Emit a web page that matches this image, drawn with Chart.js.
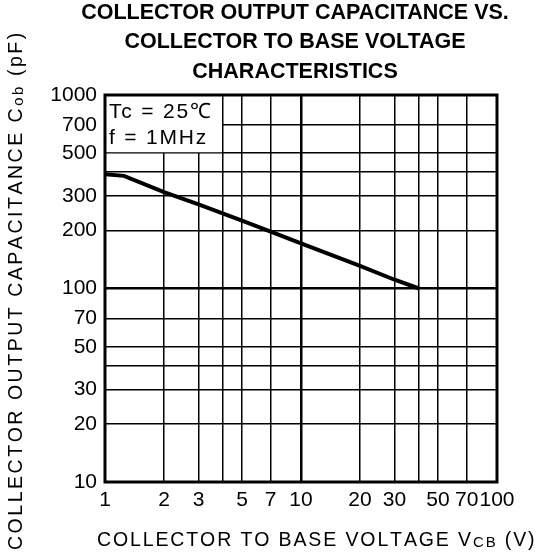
<!DOCTYPE html>
<html>
<head>
<meta charset="utf-8">
<script src="https://cdn.jsdelivr.net/npm/chart.js@4.4.0/dist/chart.umd.min.js"></script>
<style>
  html, body { margin: 0; padding: 0; background: #fff; }
  #wrap { width: 537px; height: 557px; }
</style>
</head>
<body>
<div id="wrap"><canvas id="chart" width="537" height="557"></canvas></div>
<script>
// curve (V, pF)
const voltage = [1, 1.25, 2, 3, 5, 7, 10, 20, 30, 40];
const capacitance = [390, 382, 315, 272, 224, 197, 171, 131, 111, 100];

// grid lines and the labelled ticks
const xGrid = [1, 2, 3, 4, 5, 7, 10, 20, 30, 40, 50, 70, 100];
const xLabels = [1, 2, 3, 5, 7, 10, 20, 30, 50, 70, 100];
const yGrid = [10, 20, 30, 40, 50, 70, 100, 200, 300, 400, 500, 700, 1000];
const yLabels = [10, 20, 30, 50, 70, 100, 200, 300, 500, 700, 1000];

const titleLines = ['COLLECTOR OUTPUT CAPACITANCE VS.', 'COLLECTOR TO BASE VOLTAGE', 'CHARACTERISTICS'];
const conditions = ['Tc = 25\u2103', 'f = 1MHz'];
const xTitle = [['COLLECTOR TO BASE VOLTAGE V', false], ['CB', true], [' (V)', false]];
const yTitle = [['COLLECTOR OUTPUT CAPACITANCE C', false], ['ob', true], [' (pF)', false]];

const FONT = '"Liberation Sans", Arial, sans-serif';

// draws a title with small subscript parts, stretched to a given length
function drawRich(ctx, parts, length, size) {
  const big = size + 'px ' + FONT;
  const small = Math.round(size * 0.75) + 'px ' + FONT;
  let natural = 0, chars = 0;
  parts.forEach(([t, sub]) => {
    ctx.font = sub ? small : big;
    natural += ctx.measureText(t).width;
    chars += t.length;
  });
  const spacing = (length - natural) / (chars - 1);
  let x = 0;
  ctx.textBaseline = 'middle';
  ctx.textAlign = 'left';
  parts.forEach(([t, sub]) => {
    ctx.font = sub ? small : big;
    for (const ch of t) {
      ctx.fillText(ch, x, sub ? 2 : 0);
      x += ctx.measureText(ch).width + spacing;
    }
  });
}

const decorations = {
  id: 'decorations',
  beforeDatasetsDraw(chart) {
    const { ctx, chartArea, scales } = chart;
    // conditions box in the top-left corner
    const x4 = scales.x.getPixelForValue(4);
    const y500 = scales.y.getPixelForValue(500);
    ctx.save();
    ctx.fillStyle = '#fff';
    ctx.fillRect(chartArea.left, chartArea.top, x4 - chartArea.left - 1, y500 - chartArea.top - 1);
    ctx.fillStyle = '#000';
    ctx.font = '21px ' + FONT;
    ctx.letterSpacing = '1.8px';
    ctx.textBaseline = 'middle';
    ctx.textAlign = 'left';
    ctx.fillText(conditions[0], chartArea.left + 4, chartArea.top + 17);
    ctx.fillText(conditions[1], chartArea.left + 4, chartArea.top + 43);
    ctx.restore();
  },
  afterDraw(chart) {
    const { ctx, chartArea } = chart;
    ctx.save();
    // frame
    ctx.strokeStyle = '#000';
    ctx.lineWidth = 3;
    ctx.strokeRect(chartArea.left, chartArea.top, chartArea.right - chartArea.left, chartArea.bottom - chartArea.top);
    // main title
    ctx.fillStyle = '#000';
    ctx.font = 'bold 21.5px ' + FONT;
    ctx.textAlign = 'center';
    ctx.textBaseline = 'middle';
    titleLines.forEach((line, i) => ctx.fillText(line, 295, 13 + i * 29.5));
    // axis titles
    ctx.save();
    ctx.translate(97, 541);
    drawRich(ctx, xTitle, 434, 19.5);
    ctx.restore();
    ctx.save();
    ctx.translate(17, 550);
    ctx.rotate(-Math.PI / 2);
    drawRich(ctx, yTitle, 514, 19.5);
    ctx.restore();
    ctx.restore();
  }
};

new Chart(document.getElementById('chart').getContext('2d'), {
  type: 'line',
  data: {
    datasets: [{
      data: voltage.map((v, i) => ({ x: v, y: capacitance[i] })),
      borderColor: '#000',
      borderWidth: 4,
      pointRadius: 0,
      tension: 0,
      fill: false
    }]
  },
  options: {
    responsive: false,
    animation: false,
    devicePixelRatio: 1,
    layout: { padding: { top: 95, right: 40, left: 0, bottom: 0 } },
    plugins: { legend: { display: false }, title: { display: false }, tooltip: { enabled: false } },
    scales: {
      x: {
        type: 'logarithmic',
        min: 1,
        max: 100,
        afterBuildTicks: (s) => { s.ticks = xGrid.map((v) => ({ value: v })); },
        afterFit: (s) => { s.height = 75; },
        ticks: {
          autoSkip: false,
          maxRotation: 0,
          padding: 6,
          color: '#000',
          font: { size: 21, family: FONT },
          callback: (v) => (xLabels.includes(v) ? String(v) : '')
        },
        grid: {
          color: '#000',
          drawTicks: false,
          lineWidth: (c) => (c.tick && c.tick.value === 10 ? 2.5 : 1.5)
        },
        border: { display: false }
      },
      y: {
        type: 'logarithmic',
        min: 10,
        max: 1000,
        afterBuildTicks: (s) => { s.ticks = yGrid.map((v) => ({ value: v })); },
        afterFit: (s) => { s.width = 105; },
        ticks: {
          autoSkip: false,
          padding: 8,
          color: '#000',
          font: { size: 21, family: FONT },
          callback: (v) => (yLabels.includes(v) ? String(v) : '')
        },
        grid: {
          color: '#000',
          drawTicks: false,
          lineWidth: (c) => (c.tick && c.tick.value === 100 ? 2.5 : 1.5)
        },
        border: { display: false }
      }
    }
  },
  plugins: [decorations]
});
</script>
</body>
</html>
